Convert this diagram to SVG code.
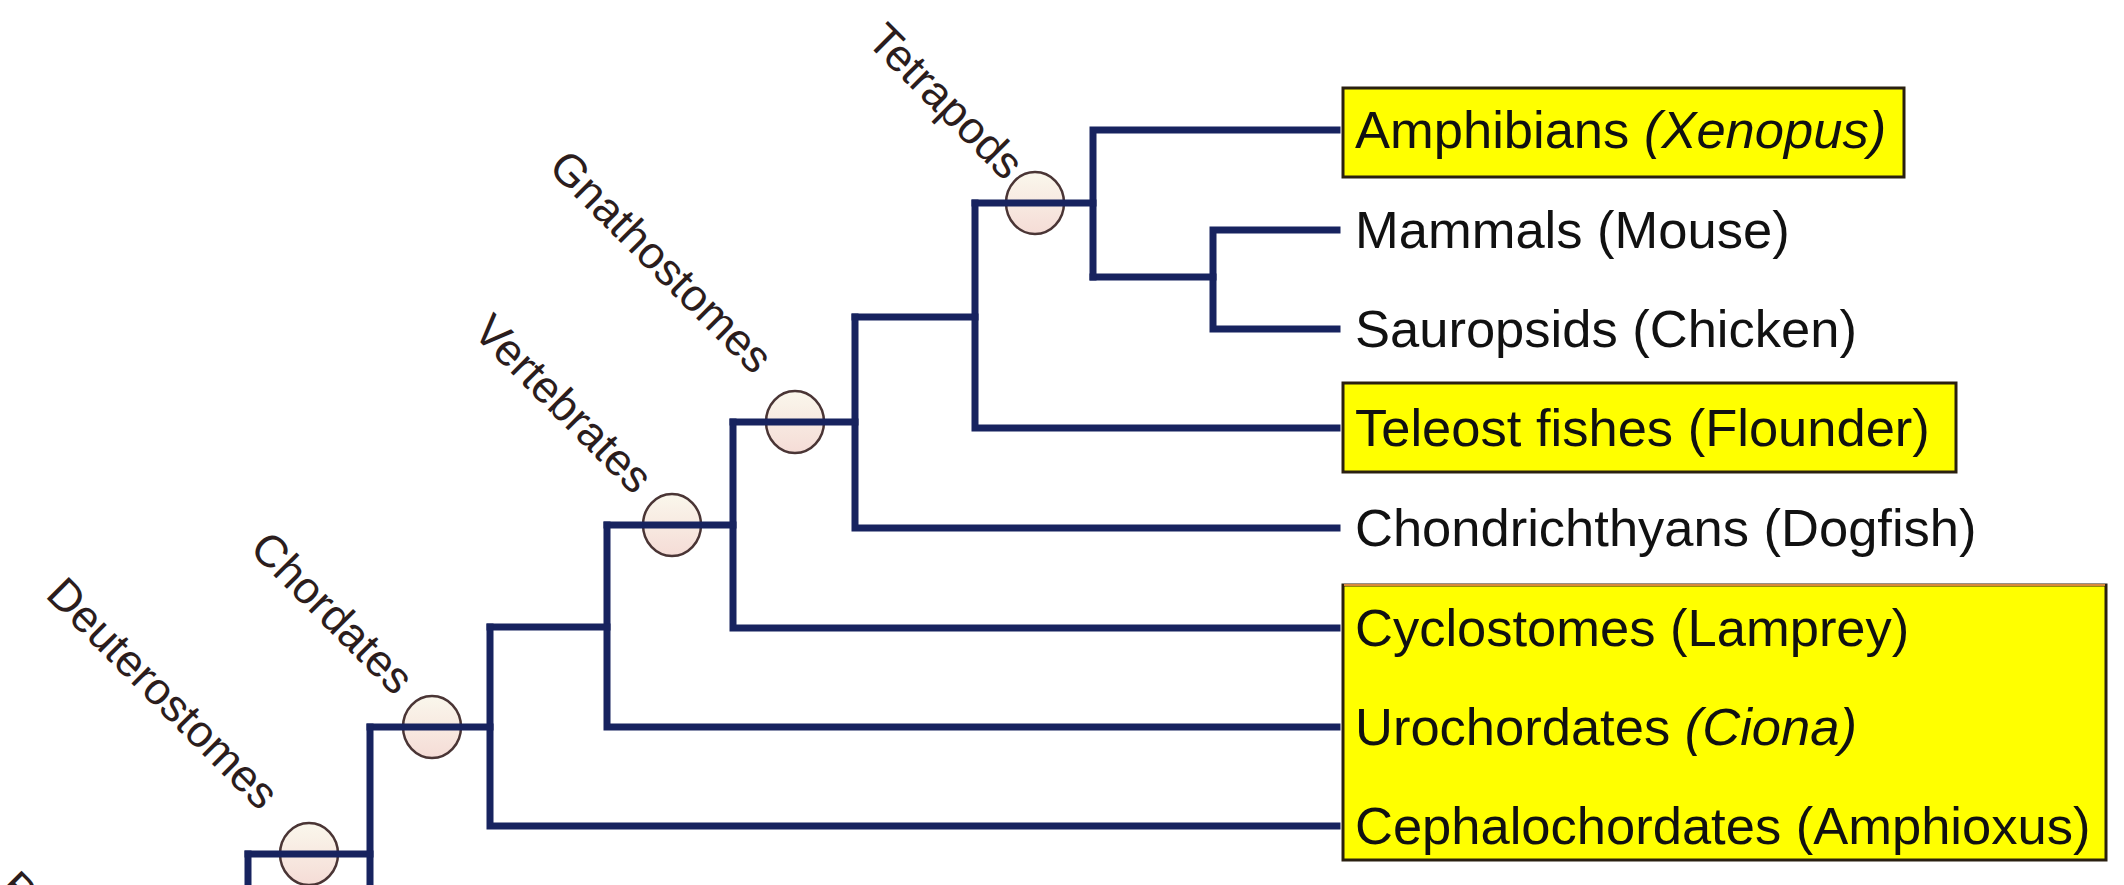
<svg xmlns="http://www.w3.org/2000/svg" width="2124" height="885" viewBox="0 0 2124 885">
<defs>
  <linearGradient id="cg" x1="0" y1="0" x2="0" y2="1">
    <stop offset="0" stop-color="#faf7ec"/>
    <stop offset="1" stop-color="#f5dcd6"/>
  </linearGradient>
</defs>
<style>
  .br { fill: none; stroke: #17235f; stroke-width: 7; stroke-linecap: square; stroke-linejoin: miter; }
  .nd { fill: url(#cg); stroke: #4a3535; stroke-width: 2.5; }
  .lb { font-family: "Liberation Sans", Arial, sans-serif; font-size: 45px; fill: #2b1d1d; }
  .tx { font-family: "Liberation Sans", Arial, sans-serif; font-size: 52.5px; fill: #111; }
  .bx { fill: #ffff00; stroke: #2a2010; stroke-width: 3; }
</style>
<rect width="2124" height="885" fill="#ffffff"/>

<g id="highlight-boxes">
  <rect id="box-amphibians" class="bx" x="1343" y="88" width="561" height="89"/>
  <rect id="box-teleost" class="bx" x="1343" y="383" width="613" height="89"/>
  <rect id="box-basal" class="bx" x="1343" y="585" width="763" height="275"/>
  <line x1="1344" y1="585" x2="2105" y2="585" stroke="#d98a3a" stroke-width="2"/>
</g>

<g id="node-circles">
  <ellipse id="n-tetrapods" class="nd" cx="1035" cy="203" rx="29" ry="31"/>
  <ellipse id="n-gnathostomes" class="nd" cx="795" cy="422" rx="29" ry="31"/>
  <ellipse id="n-vertebrates" class="nd" cx="672" cy="525" rx="29" ry="31"/>
  <ellipse id="n-chordates" class="nd" cx="432" cy="727" rx="29" ry="31"/>
  <ellipse id="n-deuterostomes" class="nd" cx="309" cy="854" rx="29" ry="31"/>
</g>

<g id="connectors">
  <path class="br" d="M1337 230 H1213 V329 H1337"/>
  <path class="br" d="M1093 277 H1213"/>
  <path class="br" d="M1337 130 H1093 V277"/>
  <path class="br" d="M975 203 H1093"/>
  <path class="br" d="M975 203 V428 H1337"/>
  <path class="br" d="M855 317 H975"/>
  <path class="br" d="M855 317 V528 H1337"/>
  <path class="br" d="M733 422 H855"/>
  <path class="br" d="M733 422 V628 H1337"/>
  <path class="br" d="M607 525 H733"/>
  <path class="br" d="M607 525 V727 H1337"/>
  <path class="br" d="M490 627 H607"/>
  <path class="br" d="M490 627 V826 H1337"/>
  <path class="br" d="M370 727 H490"/>
  <path class="br" d="M370 727 V900"/>
  <path class="br" d="M248 854 H370"/>
  <path class="br" d="M248 854 V900"/>
</g>

<g id="clade-labels">
  <text id="l-tetrapods" class="lb" text-anchor="end" transform="translate(1005 182) rotate(45)">Tetrapods</text>
  <text id="l-gnathostomes" class="lb" text-anchor="end" transform="translate(754 376) rotate(45)">Gnathostomes</text>
  <text id="l-vertebrates" class="lb" text-anchor="end" transform="translate(634 496) rotate(45)">Vertebrates</text>
  <text id="l-chordates" class="lb" text-anchor="end" transform="translate(395 697) rotate(45)">Chordates</text>
  <text id="l-deuterostomes" class="lb" text-anchor="end" transform="translate(260 812) rotate(45)">Deuterostomes</text>
  <text id="l-bilaterians" class="lb" transform="translate(-3 890) rotate(45)">Bilaterians</text>
</g>

<g id="taxa">
  <g id="t-amphibians"><text class="tx" x="1355" y="148">Amphibians <tspan font-style="italic">(Xenopus)</tspan></text></g>
  <g id="t-mammals"><text class="tx" x="1355" y="248">Mammals (Mouse)</text></g>
  <g id="t-sauropsids"><text class="tx" x="1355" y="347">Sauropsids (Chicken)</text></g>
  <g id="t-teleost"><text class="tx" x="1355" y="446">Teleost fishes (Flounder)</text></g>
  <g id="t-chondrichthyans"><text class="tx" x="1355" y="546">Chondrichthyans (Dogfish)</text></g>
  <g id="t-cyclostomes"><text class="tx" x="1355" y="646">Cyclostomes (Lamprey)</text></g>
  <g id="t-urochordates"><text class="tx" x="1355" y="745">Urochordates <tspan font-style="italic">(Ciona)</tspan></text></g>
  <g id="t-cephalochordates"><text class="tx" x="1355" y="844">Cephalochordates (Amphioxus)</text></g>
</g>
</svg>
